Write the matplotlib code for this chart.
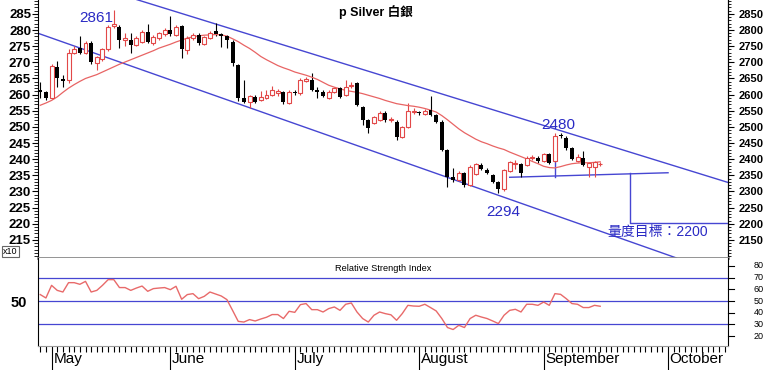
import numpy as np
import matplotlib
matplotlib.use('Agg')
import matplotlib.pyplot as plt
from matplotlib.ticker import FixedLocator, MultipleLocator, NullFormatter, FormatStrFormatter
import matplotlib.transforms as mtrans

plt.rcParams['font.family'] = ['Liberation Sans', 'Noto Sans CJK TC', 'DejaVu Sans']

# daily candles (price x10), one per weekday from 29 Apr
opens = [261.3, 260.8, 259.0, 268.6, 264.8, 264.5, 273.0, 274.3, 273.0, 276.0,
         269.8, 271.0, 274.0, 281.3, 281.0, 277.0, 277.0, 275.4, 276.3, 279.4,
         276.0, 277.6, 278.8, 280.0, 278.5, 281.3, 273.9, 277.6, 278.5, 275.7,
         277.6, 279.7, 278.8, 278.2, 276.4, 269.2, 259.0, 257.8, 259.3, 258.2,
         258.9, 259.9, 260.6, 260.9, 257.5, 260.9, 260.4, 264.3, 264.5, 261.5,
         260.9, 258.9, 260.9, 262.0, 259.9, 262.7, 263.5, 256.3, 252.2, 251.2,
         252.2, 254.3, 252.0, 251.6, 247.0, 250.1, 254.5, 254.6, 254.0, 255.3,
         253.7, 251.6, 242.9, 234.5, 233.6, 235.7, 232.0, 235.4, 238.2, 236.7,
         235.1, 233.0, 230.7, 236.2, 238.6, 238.4, 238.2, 240.3, 240.5, 239.3,
         241.5, 239.3, 247.5, 246.7, 243.4, 239.5, 240.3, 237.7, 237.7, 238.4]
highs = [264.0, 261.0, 269.5, 270.5, 266.0, 274.0, 275.0, 278.0, 276.5, 276.5,
         272.0, 274.5, 281.5, 286.1, 281.5, 279.0, 279.0, 278.0, 280.0, 282.0,
         278.5, 279.5, 280.5, 284.2, 281.5, 281.5, 278.0, 279.0, 279.0, 278.3,
         279.6, 282.2, 279.2, 278.6, 277.0, 269.5, 264.5, 260.0, 259.8, 261.0,
         261.5, 262.8, 261.8, 261.2, 261.5, 261.5, 265.0, 265.5, 266.7, 262.5,
         261.3, 261.3, 262.4, 262.5, 264.5, 263.8, 264.0, 256.5, 252.5, 253.5,
         255.0, 254.8, 253.0, 252.0, 250.4, 257.5, 256.0, 255.0, 255.5, 259.6,
         254.0, 252.0, 243.2, 237.3, 236.2, 236.0, 238.2, 238.9, 238.8, 237.2,
         235.5, 233.4, 237.1, 239.4, 239.6, 238.8, 240.9, 241.3, 241.0, 242.0,
         242.0, 248.0, 248.0, 247.3, 243.8, 241.5, 242.5, 239.2, 239.4, 239.2]
lows = [259.0, 258.4, 258.5, 262.5, 262.3, 263.5, 272.5, 272.5, 272.5, 269.5,
        267.6, 270.5, 273.5, 280.5, 274.5, 275.0, 273.0, 275.0, 276.0, 276.0,
        275.5, 277.0, 278.3, 278.3, 278.0, 271.4, 272.6, 277.0, 275.5, 275.3,
        277.2, 278.3, 274.8, 274.3, 269.0, 258.0, 257.5, 256.0, 257.5, 258.0,
        258.5, 259.5, 259.5, 257.0, 257.0, 260.0, 260.0, 263.8, 261.0, 259.0,
        259.2, 258.5, 260.5, 259.0, 259.5, 262.2, 256.5, 250.6, 248.0, 250.8,
        251.8, 251.5, 251.6, 246.0, 246.6, 249.8, 254.0, 253.8, 253.6, 253.3,
        251.2, 242.5, 231.5, 233.0, 233.2, 231.4, 231.6, 235.0, 236.5, 235.3,
        232.6, 229.4, 230.3, 235.9, 237.0, 234.6, 237.8, 239.8, 238.9, 239.0,
        238.5, 239.0, 246.5, 243.0, 239.7, 239.0, 237.8, 234.6, 234.6, 238.0]
closes = [260.8, 259.0, 269.0, 265.0, 264.2, 273.0, 274.2, 273.0, 276.0, 270.0,
          271.7, 274.0, 281.0, 281.8, 277.0, 277.5, 275.4, 277.6, 279.4, 276.3,
          277.9, 279.0, 280.0, 278.8, 281.0, 274.0, 277.6, 278.5, 276.0, 277.9,
          279.2, 278.8, 278.2, 277.0, 269.7, 259.0, 257.8, 259.6, 257.8, 259.3,
          259.9, 261.3, 261.0, 257.8, 260.9, 260.4, 264.5, 264.7, 261.5, 260.9,
          259.6, 260.9, 262.0, 259.4, 262.5, 263.1, 256.8, 252.2, 249.6, 253.1,
          254.3, 252.2, 252.4, 247.0, 250.0, 255.0, 254.8, 254.2, 255.0, 253.7,
          251.6, 242.9, 234.6, 233.6, 235.7, 232.0, 237.7, 238.5, 236.9, 235.7,
          233.0, 230.7, 236.7, 239.0, 238.9, 235.7, 240.5, 240.6, 239.3, 241.5,
          238.9, 247.3, 247.2, 243.4, 240.1, 240.8, 238.2, 238.8, 239.0, 238.6]
ma20 = [256.7, 257.4, 258.2, 259.3, 260.7, 262.0, 263.1, 264.1, 265.0, 265.6,
        266.2, 267.0, 267.8, 268.6, 269.4, 270.1, 270.8, 271.5, 272.2, 272.9,
        273.6, 274.4, 275.0, 275.6, 276.3, 276.9, 277.5, 277.9, 278.2, 278.4,
        278.5, 278.6, 278.5, 278.1, 277.3, 276.4, 275.3, 274.3, 273.1, 271.8,
        270.8, 269.9, 269.0, 268.3, 267.7, 267.0, 266.5, 266.0, 265.4, 264.7,
        263.8, 262.9, 262.3, 261.8, 261.3, 261.0, 260.7, 260.3, 259.8, 259.3,
        258.8, 258.2, 257.7, 257.2, 256.9, 256.6, 256.4, 256.1, 255.7, 255.2,
        254.6, 253.5, 252.2, 250.8, 249.4, 248.2, 247.2, 246.2, 245.4, 244.8,
        244.1, 243.5, 243.0, 242.2, 241.5, 240.8, 240.1, 239.3, 238.6, 237.8,
        237.4, 237.3, 237.7, 238.2, 238.6, 238.8, 238.9, 238.9, 239.0, 239.2]
rsi = [55.5, 52.6, 63.4, 59.1, 57.7, 65.7, 65.7, 64.3, 66.8, 57.7,
       59.1, 63.4, 68.3, 68.3, 61.5, 61.5, 59.1, 61.1, 62.8, 58.3,
       60.6, 61.1, 61.5, 59.7, 62.6, 51.5, 55.5, 56.3, 52.0, 54.0,
       57.7, 56.0, 54.3, 51.2, 42.0, 32.6, 32.0, 34.1, 32.9, 34.6,
       36.1, 38.4, 38.4, 35.0, 41.2, 40.3, 46.9, 47.8, 42.6, 42.6,
       40.6, 43.5, 44.9, 42.0, 47.2, 48.3, 40.6, 35.0, 32.0, 37.8,
       40.6, 39.2, 38.2, 33.5, 39.2, 46.3, 45.7, 45.5, 47.2, 44.4,
       41.5, 35.0, 27.3, 25.6, 29.2, 27.3, 35.0, 37.8, 36.3, 35.0,
       32.9, 30.7, 37.8, 42.0, 42.9, 40.6, 47.2, 47.2, 46.3, 49.1,
       46.3, 56.3, 55.7, 52.0, 47.8, 47.2, 44.4, 44.4, 46.3, 45.5]

months = ['May', 'June', 'July', 'August', 'September', 'October']
month_idx = [2, 23, 45, 67, 89, 111]

# trend lines: (day index pair, price pair)
upper_x, upper_y = [17.1, 121.6], [289.4, 232.8]
lower_x, lower_y = [-0.4, 112.5], [279.0, 209.4]
support_x, support_y = [83, 111], [234.4, 235.8]
target_x, target_y = 104.2, 220.2

RED = '#e24848'
BLUE = '#4646d2'
TXT_BLUE = '#2a2ac4'

o = np.array(opens); h = np.array(highs); l = np.array(lows); c = np.array(closes)
x = np.arange(len(c))
up = c >= o

fig = plt.figure(figsize=(7.67, 3.70), dpi=100)
ax = fig.add_axes([38/767, 1 - 258/370, 690/767, 258/370])
ax2 = fig.add_axes([38/767, 24/370, 690/767, 88/370], sharex=ax)

# channel and target lines
ax.plot(upper_x, upper_y, color=BLUE, lw=1, zorder=1)
ax.plot(lower_x, lower_y, color=BLUE, lw=1, zorder=1)
ax.plot(support_x, support_y, color=BLUE, lw=1, zorder=1)
ax.plot([91, 91], [234.6, o[91]], color=BLUE, lw=1, zorder=1)
ax.plot([target_x, target_x, 121.6], [235.6, target_y, target_y], color=BLUE, lw=1, zorder=1)

# candles
ax.vlines(x[up], l[up], h[up], color=RED, lw=0.8, zorder=2)
ax.vlines(x[~up], l[~up], h[~up], color='black', lw=0.8, zorder=2)
body_lo = np.minimum(o, c)
body_h = np.maximum(np.abs(c - o), 0.25)
ax.bar(x[up], body_h[up], 0.7, bottom=body_lo[up], facecolor='white', edgecolor=RED, lw=0.8, zorder=3)
ax.bar(x[~up], body_h[~up], 0.7, bottom=body_lo[~up], color='black', zorder=3)

ax.plot(x, ma20, color='#e86464', lw=0.9, zorder=2)

ax.set_xlim(-0.4, 121.6)
ax.set_ylim(209.4, 289.3)

ax.yaxis.set_major_locator(FixedLocator(np.arange(215, 290, 5)))
ax.yaxis.set_minor_locator(MultipleLocator(1))
ax.yaxis.set_major_formatter(FormatStrFormatter('%d'))
ax.tick_params(axis='y', which='major', length=4, pad=1, labelsize=9.5, direction='out')
ax.tick_params(axis='y', which='minor', length=3, direction='out')
for t in ax.get_yticklabels():
    t.set_fontweight('bold')
ax.tick_params(axis='x', which='both', bottom=False, labelbottom=False)

sec = ax.secondary_yaxis('right', functions=(lambda v: v * 10, lambda v: v / 10))
sec.yaxis.set_major_locator(FixedLocator(np.arange(2150, 2900, 50)))
sec.yaxis.set_minor_locator(MultipleLocator(10))
sec.yaxis.set_major_formatter(FormatStrFormatter('%d'))
sec.tick_params(which='major', length=4, pad=4, labelsize=8)
sec.tick_params(which='minor', length=2.5)
for t in sec.get_yticklabels():
    t.set_fontweight('bold')

ax.spines['top'].set_visible(False)
ax.spines['bottom'].set_color('#8a8a8a')
ax.spines['bottom'].set_linewidth(2)

ax.text(0.49, 0.955, 'p Silver 白銀', transform=ax.transAxes, ha='center', va='center',
        fontsize=9, fontweight='bold')
ax.text(9.9, 283.8, '2861', color=TXT_BLUE, fontsize=11, ha='center', va='center')
ax.text(91.5, 250.6, '2480', color=TXT_BLUE, fontsize=11, ha='center', va='center')
ax.text(81.8, 223.7, '2294', color=TXT_BLUE, fontsize=11, ha='center', va='center')
ax.text(100.2, 217.4, '量度目標：2200', color=TXT_BLUE, fontsize=10, ha='left', va='center')

fig.text(3/767, 1 - 251.5/370, 'x10', fontsize=6.5, va='center', ha='left',
         bbox=dict(boxstyle='square,pad=0.15', fc='white', ec='#666666', lw=0.8))

# RSI panel
for lv in [70, 50, 30]:
    ax2.axhline(lv, color=BLUE, lw=0.9, zorder=1)
ax2.plot(x, rsi, color='#e86a6a', lw=1, zorder=2)
ax2.set_ylim(11.5, 86.8)
ax2.set_yticks([50])
ax2.set_yticklabels(['50'], fontsize=10.5, fontweight='bold')
ax2.tick_params(axis='y', length=0, pad=8)
ax2.spines['top'].set_visible(False)
ax2.spines['bottom'].set_color('#9a9a9a')
ytr = mtrans.blended_transform_factory(ax2.transAxes, ax2.transData)
for lv in range(20, 90, 10):
    ax2.plot([1.0, 1.008], [lv, lv], transform=ytr, color='black', lw=0.8, clip_on=False)
    ax2.text(1.052, lv, str(lv), transform=ytr, ha='right', va='center', fontsize=6.5)
ax2.text(0.5, 0.886, 'Relative Strength Index', transform=ax2.transAxes, ha='center',
         va='center', fontsize=6.7)

ax2.xaxis.set_major_locator(FixedLocator(month_idx))
ax2.xaxis.set_minor_locator(FixedLocator(np.arange(0, 122)))
ax2.xaxis.set_major_formatter(NullFormatter())
ax2.tick_params(axis='x', which='major', length=17, width=0.8, direction='out')
ax2.tick_params(axis='x', which='minor', length=4.5, width=0.8, direction='out')
xtr = mtrans.blended_transform_factory(ax2.transData, ax2.transAxes)
for mi, name in zip(month_idx, months):
    ax2.text(mi + 0.3, -0.07, name, transform=xtr, ha='left', va='top', fontsize=11)

fig.savefig('out.png', dpi=100)
